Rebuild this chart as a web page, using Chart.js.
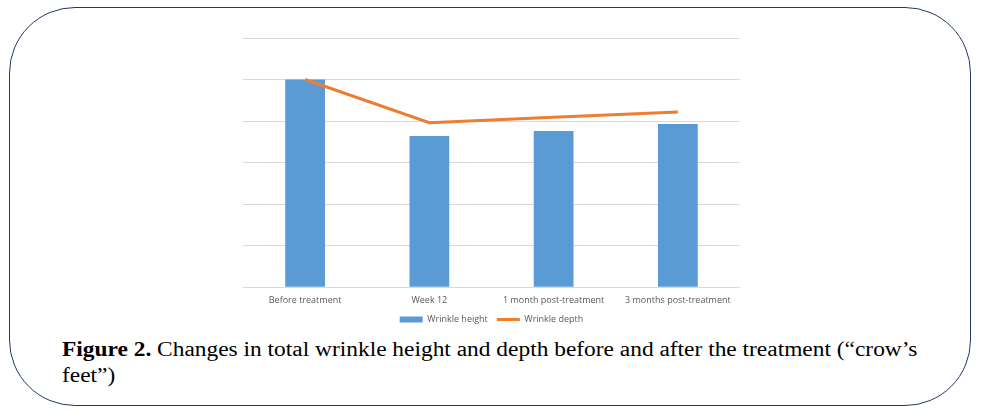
<!DOCTYPE html>
<html>
<head>
<meta charset="utf-8">
<script src="https://cdn.jsdelivr.net/npm/chart.js@4.4.0/dist/chart.umd.min.js"></script>
<style>
  html, body { margin: 0; padding: 0; background: #fff; }
  body { width: 995px; height: 417px; position: relative; overflow: hidden; }
  #frame {
    position: absolute; left: 9px; top: 7px; width: 962px; height: 399px;
    border: 1.5px solid #1f3864; border-radius: 66px; box-sizing: border-box;
  }
  #wrap { position: absolute; left: 233px; top: 30px; width: 517px; height: 304px; }
  #caption {
    position: absolute; left: 62px; top: 336px; width: 760px;
    font-family: "Liberation Serif", "Times New Roman", serif; font-size: 20px;
    line-height: 26px; color: #000;
    transform: scaleX(1.17); transform-origin: left top;
  }
</style>
</head>
<body>
<div id="frame"></div>
<div id="wrap"><canvas id="chart"></canvas></div>
<div id="caption"><b>Figure 2.</b> Changes in total wrinkle height and depth before and after the treatment (“crow’s feet”)</div>
<script>
var labels = ['Before treatment', 'Week 12', '1 month post-treatment', '3 months post-treatment'];
var wrinkleHeight = [5.0, 3.64, 3.76, 3.93];
var wrinkleDepth = [5.0, 3.96, 4.09, 4.22];

var blue = '#5b9bd5';
var orange = '#ed7d31';
var grey = '#595959';

var ctx = document.getElementById('chart').getContext('2d');

var chart = new Chart(ctx, {
  data: {
    labels: labels,
    datasets: [
      {
        type: 'line',
        label: 'Wrinkle depth',
        data: wrinkleDepth,
        borderColor: orange,
        backgroundColor: orange,
        borderWidth: 3,
        pointRadius: 0,
        tension: 0,
        order: 0
      },
      {
        type: 'bar',
        label: 'Wrinkle height',
        data: wrinkleHeight,
        backgroundColor: blue,
        categoryPercentage: 1,
        barPercentage: 0.32,
        order: 1
      }
    ]
  },
  options: {
    responsive: true,
    maintainAspectRatio: false,
    animation: false,
    layout: { padding: { top: 8, left: 10, right: 10, bottom: 0 } },
    scales: {
      x: {
        grid: { display: false },
        border: { display: false },
        ticks: { color: grey, font: { family: 'Open Sans', size: 9 }, padding: 0, maxRotation: 0 }
      },
      y: {
        min: 0,
        max: 6,
        ticks: { display: false, stepSize: 1 },
        border: { display: false },
        grid: { color: '#d9d9d9', drawTicks: false }
      }
    },
    plugins: {
      tooltip: { enabled: false },
      legend: {
        position: 'bottom',
        reverse: true,
        labels: {
          color: grey,
          font: { family: 'Open Sans', size: 9 },
          usePointStyle: true,
          pointStyleWidth: 23,
          boxHeight: 6,
          padding: 9,
          generateLabels: function(chart) {
            return chart.data.datasets.map(function(ds, i) {
              var isLine = ds.type === 'line';
              return {
                text: ds.label,
                datasetIndex: i,
                fillStyle: isLine ? orange : blue,
                strokeStyle: isLine ? orange : blue,
                lineWidth: isLine ? 3 : 0,
                pointStyle: isLine ? 'line' : 'rect',
                fontColor: grey,
                hidden: false
              };
            });
          }
        }
      }
    }
  }
});
</script>
</body>
</html>
